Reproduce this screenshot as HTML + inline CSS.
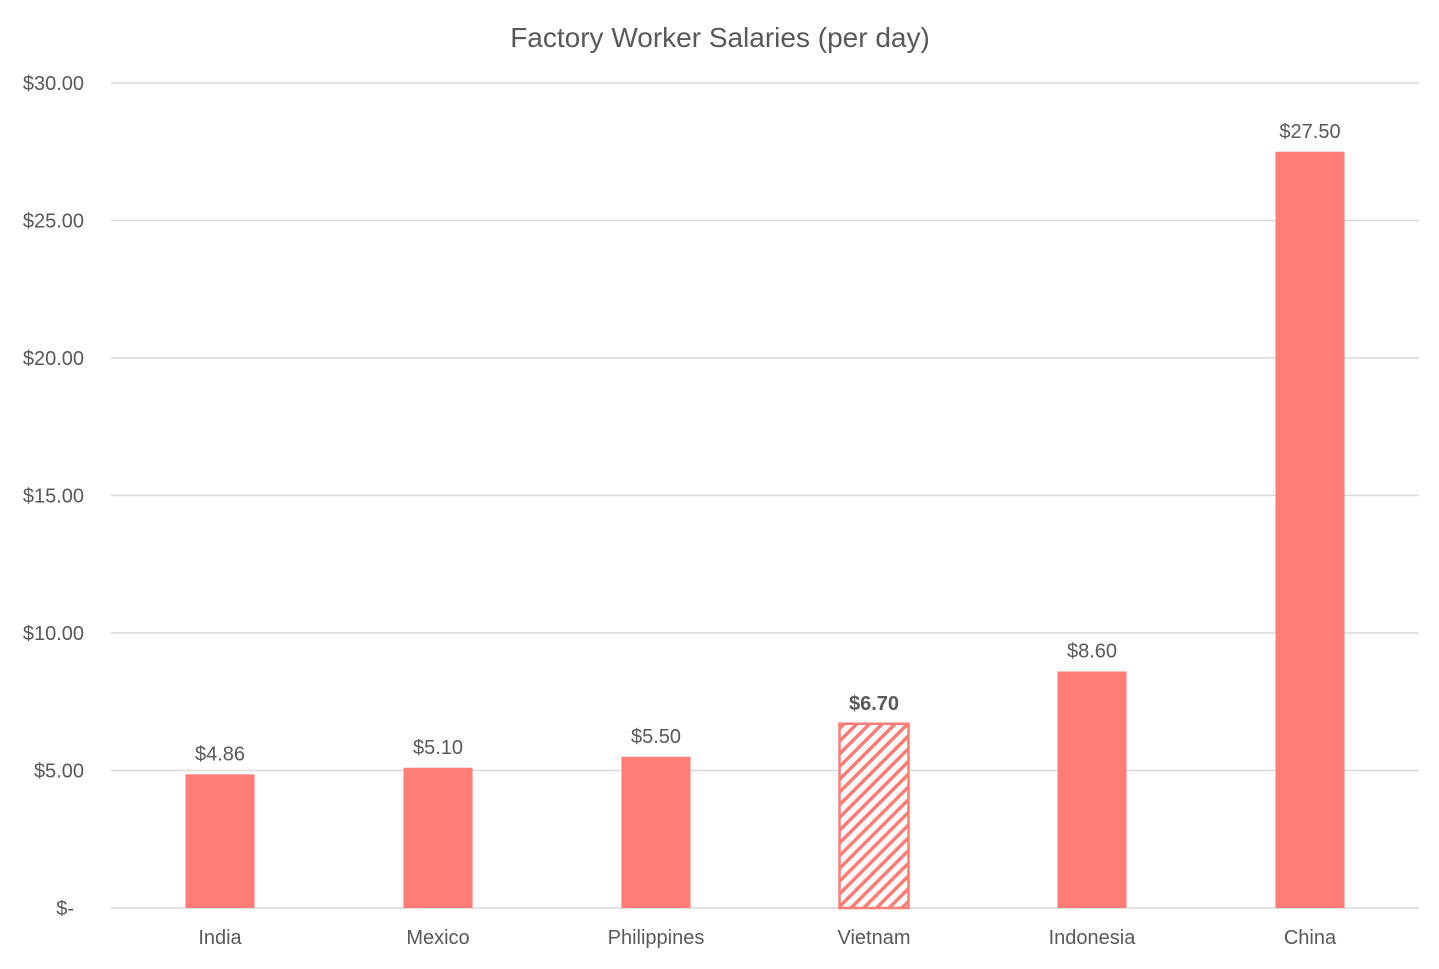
<!DOCTYPE html>
<html><head><meta charset="utf-8"><style>
html,body{margin:0;padding:0;background:#fff;}
svg text{font-family:"Liberation Sans",sans-serif;fill:#595959;}
</style></head><body>
<svg id="chart" width="1439" height="964" viewBox="0 0 1439 964" xmlns="http://www.w3.org/2000/svg">
<defs>
<pattern id="hatch" patternUnits="userSpaceOnUse" width="9" height="9" patternTransform="rotate(45)">
<rect width="9" height="9" fill="#fff"/>
<rect x="0" y="0" width="3.5" height="9" fill="#ff7c77"/>
</pattern>
</defs>
<text x="720" y="47" text-anchor="middle" font-size="28">Factory Worker Salaries (per day)</text>
<g id="grid"></g><g id="bars"></g><g id="labels"></g>
</svg>
<script>
const categories=["India","Mexico","Philippines","Vietnam","Indonesia","China"];
const values=[4.86,5.10,5.50,6.70,8.60,27.50];
const valueLabels=["$4.86","$5.10","$5.50","$6.70","$8.60","$27.50"];
const tickValues=[0,5,10,15,20,25,30];
const tickLabels=["$-","$5.00","$10.00","$15.00","$20.00","$25.00","$30.00"];
const highlight="Vietnam";
const NS="http://www.w3.org/2000/svg";
const x0=111,x1=1419,yBase=908,yTop=83,maxV=30;
const y=v=>yBase-(v/maxV)*(yBase-yTop);
const band=(x1-x0)/categories.length;
const xc=i=>x0+band*(i+0.5);
const bw=69;
function mk(t,a,p){const e=document.createElementNS(NS,t);for(const k in a)e.setAttribute(k,a[k]);p.appendChild(e);return e;}
const grid=document.getElementById('grid'),bars=document.getElementById('bars'),labels=document.getElementById('labels');
tickValues.forEach((v,i)=>{
 const l=mk('line',{x1:x0,x2:x1,y1:y(v),y2:y(v),stroke:'#d9d9d9','stroke-width':1.5},grid);
 
 
 const t=mk('text',{x:v===0?74:84,y:y(v)+7,'text-anchor':'end','font-size':20},grid);
 
 
 t.textContent=tickLabels[i];
});
categories.forEach((c,i)=>{
 const h=c===highlight;
 const r=mk('rect',{x:xc(i)-bw/2,y:y(values[i]),width:bw,height:yBase-y(values[i]),fill:h?'url(#hatch)':'#ff7c77',stroke:h?'#ff7c77':'none','stroke-width':h?2.5:0},bars);
 
 
 const t=mk('text',{x:xc(i),y:y(values[i])-14,'text-anchor':'middle','font-size':20},labels);
 if(h){t.setAttribute('font-weight','bold');t.setAttribute('fill','#404040');}
 
 
 t.textContent=valueLabels[i];
 const xl=mk('text',{x:xc(i),y:944,'text-anchor':'middle','font-size':20},labels);
 
 
 xl.textContent=c;
});
</script>
</body></html>
